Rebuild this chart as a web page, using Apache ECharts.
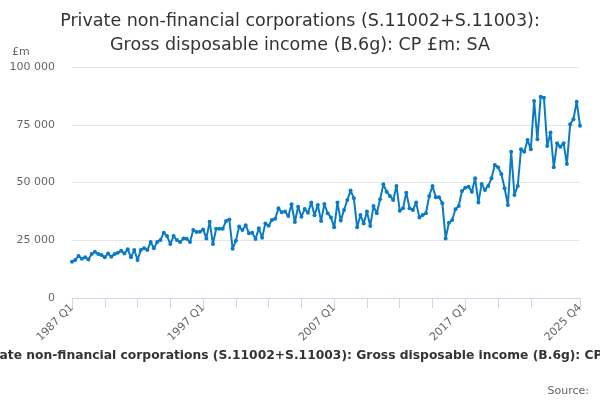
<!DOCTYPE html>
<html>
<head>
<meta charset="utf-8">
<script src="https://cdn.jsdelivr.net/npm/echarts@6/dist/echarts.min.js"></script>
<style>
    html, body { margin: 0; padding: 0; background: #fff; }
    #main { width: 600px; height: 400px; }
</style>
</head>
<body>
<div id="main"></div>
<script>
;(function () {

    var titleText = "Private non-financial corporations (S.11002+S.11003):\nGross disposable income (B.6g): CP £m: SA";
    var footText = "Private non-financial corporations (S.11002+S.11003): Gross disposable income (B.6g): CP £m: SA";
    var unitText = "£m";
    var sourceText = "Source:";

    var firstYear = 1987;
    var lastYear = 2025;
    var quarterNames = ["Q1", "Q2", "Q3", "Q4"];

    // y axis ticks
    var yTicks = [0, 25000, 50000, 75000, 100000];

    // £m, quarterly, 1987 Q1 .. 2025 Q4
    var gdiValues = [
        15700, 16500, 18200, 17000, 17600, 16700, 19000, 20000,
        19000, 18600, 17600, 19300, 17900, 19000, 19600, 20500,
        19300, 21100, 17600, 20800, 16500, 20800, 21500, 20800,
        24200, 21500, 24200, 25100, 28300, 26800, 23400, 26800,
        25100, 24200, 25800, 25700, 24200, 29400, 28600, 28700,
        29700, 25800, 33000, 23400, 30000, 30000, 30000, 33300,
        34000, 21300, 24800, 30900, 29400, 31500, 28000, 28300,
        25500, 30200, 26100, 32300, 31300, 33800, 34300, 38800,
        37100, 37400, 35500, 40600, 32900, 39500, 35200, 38500,
        36900, 41300, 35800, 40300, 33300, 40700, 36700, 34900,
        30600, 41300, 33500, 38100, 42400, 46500, 43200, 30600,
        35900, 32300, 37400, 31200, 39800, 36700, 42700, 49200,
        46000, 44200, 42400, 48500, 37800, 38800, 45600, 38800,
        38100, 41300, 34900, 35900, 36700, 44200, 48500, 43600,
        43600, 41000, 25800, 32600, 33800, 38400, 39800, 46300,
        47700, 48200, 46000, 51800, 41300, 49400, 46800, 48500,
        51800, 57600, 56600, 53700, 47500, 40300, 63300, 44600,
        48500, 64400, 63300, 68400, 64400, 85300, 68700, 87100,
        86700, 65800, 71600, 56600, 67000, 65500, 67000, 58000,
        75200, 77400, 85000, 74600
    ];

    var categories = [];
    for (var y = firstYear; y <= lastYear; y++) {
        for (var q = 0; q < 4; q++) {
            categories.push(y + " " + quarterNames[q]);
        }
    }
    var lastIdx = categories.length - 1;

    function spaced(v) {
        return String(v).replace(/\B(?=(\d{3})+(?!\d))/g, " ");
    }

    var font = "DejaVu Sans";
    var chart = echarts.init(document.getElementById("main"));

    chart.setOption({
        animation: false,
        title: {
            text: titleText,
            left: "center",
            top: 4,
            textStyle: {
                fontFamily: font,
                fontSize: 17.5,
                fontWeight: "normal",
                color: "#333333",
                lineHeight: 24
            }
        },
        grid: {
            left: 72,
            right: 20,
            top: 67,
            bottom: 102
        },
        xAxis: {
            type: "category",
            data: categories,
            boundaryGap: false,
            axisLine: { lineStyle: { color: "#ccd6eb", width: 1 } },
            axisTick: {
                length: 10,
                lineStyle: { color: "#ccd6eb" },
                interval: function (idx) {
                    return (idx % 10 === 0 && idx <= 140) || idx === lastIdx;
                }
            },
            axisLabel: {
                rotate: 45,
                margin: 8,
                fontFamily: font,
                fontSize: 11,
                color: "#666666",
                interval: function (idx) {
                    return idx % 40 === 0 || idx === lastIdx;
                }
            },
            splitLine: { show: false }
        },
        yAxis: {
            type: "value",
            min: yTicks[0],
            max: yTicks[yTicks.length - 1],
            interval: yTicks[1] - yTicks[0],
            axisLine: { show: false },
            axisTick: { show: false },
            axisLabel: {
                margin: 17,
                fontFamily: font,
                fontSize: 11,
                color: "#666666",
                formatter: spaced
            },
            splitLine: { lineStyle: { color: "#e6e6e6", width: 1 } }
        },
        series: [{
            type: "line",
            data: gdiValues,
            symbol: "circle",
            symbolSize: 4,
            showAllSymbol: true,
            lineStyle: { color: "#0a7bc4", width: 2 },
            itemStyle: { color: "#0a7bc4" }
        }],
        graphic: [
            {
                type: "text",
                left: 12,
                top: 47,
                style: { text: unitText, font: "11px " + font, fill: "#666666" }
            },
            {
                type: "text",
                x: 314,
                y: 356,
                style: {
                    text: footText,
                    font: "bold 12.3px " + font,
                    fill: "#333333",
                    textAlign: "center",
                    textVerticalAlign: "middle"
                }
            },
            {
                type: "text",
                right: 11,
                top: 386,
                style: { text: sourceText, font: "11px " + font, fill: "#666666" }
            }
        ]
    });
})();
</script>
</body>
</html>
